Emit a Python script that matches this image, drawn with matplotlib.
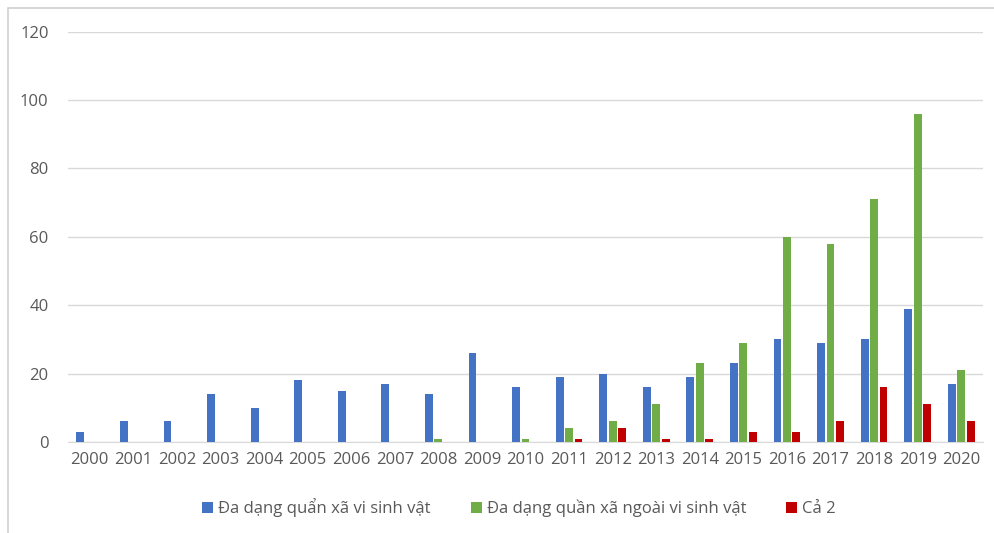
import matplotlib
matplotlib.use("Agg")
import matplotlib.pyplot as plt
from matplotlib.patches import Rectangle
import numpy as np

years = [str(y) for y in range(2000, 2021)]
vi_sinh_vat = [3, 6, 6, 14, 10, 18, 15, 17, 14, 26, 16, 19, 20, 16, 19, 23, 30, 29, 30, 39, 17]
ngoai_vi_sinh_vat = [0, 0, 0, 0, 0, 0, 0, 0, 1, 0, 1, 4, 6, 11, 23, 29, 60, 58, 71, 96, 21]
ca_hai = [0, 0, 0, 0, 0, 0, 0, 0, 0, 0, 0, 1, 4, 1, 1, 3, 3, 6, 16, 11, 6]
series_labels = ["Đa dạng quẩn xã vi sinh vật",
                 "Đa dạng quần xã ngoài vi sinh vật",
                 "Cả 2"]
y_ticks = [0, 20, 40, 60, 80, 100, 120]

colors = ["#4472C4", "#70AD47", "#C00000"]
text_color = "#595959"
plt.rcParams['font.family'] = ['Open Sans', 'DejaVu Sans']

W, H = 995, 533
fig = plt.figure(figsize=(W / 100, H / 100), dpi=100)

# light frame around the chart area (open at right and bottom)
fig.patches.append(Rectangle((8 / W, -0.05), 1.2, (H - 8) / H + 0.05, transform=fig.transFigure,
                             fill=False, edgecolor="#D0D0D0", linewidth=1.2))

left, right = 68 / W, 983 / W
bottom, top = (H - 442) / H, (H - 31.6) / H
ax = fig.add_axes([left, bottom, right - left, top - bottom])

x = np.arange(len(years))
bw = 0.18
off = 0.215
for i, (vals, c, lab) in enumerate(zip([vi_sinh_vat, ngoai_vi_sinh_vat, ca_hai], colors, series_labels)):
    ax.bar(x + (i - 1) * off, vals, width=bw, color=c, label=lab, zorder=3)

ax.set_xlim(-0.5, len(years) - 0.5)
ax.set_ylim(0, 120)
ax.set_yticks(y_ticks)
ax.set_xticks(x)
ax.set_xticklabels(years)
ax.yaxis.grid(True, color="#D9D9D9", linewidth=1.0, zorder=0)
ax.tick_params(axis="both", length=0, labelsize=12, labelcolor=text_color)
ax.tick_params(axis="y", pad=14)
ax.tick_params(axis="x", pad=7)
for s in ["top", "right", "left"]:
    ax.spines[s].set_visible(False)
ax.spines["bottom"].set_color("#D9D9D9")

leg = fig.legend(loc="center", bbox_to_anchor=(519 / W, (H - 508) / H), ncol=3, frameon=False,
                 fontsize=12, handlelength=0.65, handleheight=0.65, handletextpad=0.3,
                 columnspacing=2.4, labelcolor=text_color)

fig.savefig("out.png", dpi=100, facecolor="white")
